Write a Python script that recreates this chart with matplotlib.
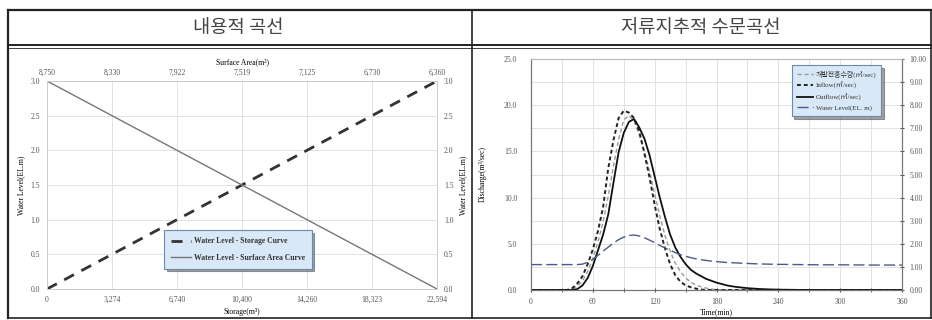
import numpy as np
import matplotlib
matplotlib.use("Agg")
import matplotlib.pyplot as plt
from matplotlib.lines import Line2D

plt.rcParams['font.family'] = ['Liberation Serif', 'Noto Sans CJK KR', 'DejaVu Sans']

# --- stage-storage data ---
levels = [0.0, 0.5, 1.0, 1.5, 2.0, 2.5, 3.0]
storage = [0, 3274, 6740, 10400, 14260, 18323, 22594]
surface_area = [6360, 6730, 7125, 7519, 7922, 8330, 8750]

# --- routing hydrograph data ---
time = [0, 10, 20, 30, 35, 40, 45, 50, 55, 60, 65, 70, 75, 80, 85, 90, 95, 100,
        105, 110, 115, 120, 125, 130, 135, 140, 145, 150, 155, 160, 165, 170,
        175, 180, 185, 190, 195, 200, 210, 220, 230, 240, 260, 280, 300, 330, 360]
pre_dev = [0, 0, 0, 0, 0, 0.1, 0.4, 1.0, 2.0, 3.4, 5.2, 7.4, 10.2, 13.4, 16.3, 18.4, 18.9, 18.3,
           16.8, 15.0, 12.8, 10.4, 8.0, 5.9, 4.2, 2.9, 2.0, 1.3, 0.85, 0.55, 0.35, 0.2,
           0.1, 0.05, 0, 0, 0, 0, 0, 0, 0, 0, 0, 0, 0, 0, 0]
inflow = [0, 0, 0, 0, 0, 0.2, 0.7, 1.5, 2.8, 4.4, 6.4, 9.0, 13.2, 16.2, 18.6, 19.4, 19.2, 18.6,
          17.2, 14.8, 12.2, 9.2, 6.6, 4.5, 2.8, 1.6, 0.9, 0.5, 0.3, 0.15, 0.05, 0,
          0, 0, 0, 0, 0, 0, 0, 0, 0, 0, 0, 0, 0, 0, 0]
outflow = [0, 0, 0, 0, 0, 0, 0.1, 0.5, 1.3, 2.6, 4.3, 6.0, 8.2, 11.6, 14.9, 17.0, 18.2, 18.5,
           17.6, 16.4, 14.6, 12.3, 10.0, 7.9, 6.0, 4.6, 3.6, 2.8, 2.2, 1.8, 1.5, 1.2,
           1.0, 0.8, 0.65, 0.5, 0.4, 0.32, 0.2, 0.12, 0.07, 0.04, 0.01, 0, 0, 0, 0]
water_level = [1.1, 1.1, 1.1, 1.1, 1.1, 1.1, 1.1, 1.12, 1.2, 1.33, 1.5, 1.68, 1.86, 2.03, 2.18, 2.29, 2.36, 2.38,
               2.34, 2.26, 2.16, 2.05, 1.93, 1.82, 1.72, 1.62, 1.53, 1.46, 1.40, 1.35, 1.31, 1.28,
               1.25, 1.23, 1.21, 1.19, 1.18, 1.17, 1.15, 1.13, 1.12, 1.11, 1.10, 1.09, 1.09, 1.08, 1.08]

fig = plt.figure(figsize=(9.32, 3.2), dpi=100)
W, H = 932.0, 320.0


def fx(px):
    return px / W


def fy(py):
    return 1 - py / H


# frame / table lines
for (x0, y0, x1, y1, lw) in [(8, 10, 931, 10, 1.6), (8, 318, 931, 318, 1.2),
                             (8, 10, 8, 318, 1.6), (931, 10, 931, 318, 1.2),
                             (8, 45, 931, 45, 1.4), (8, 48, 931, 48, 0.6),
                             (472, 10, 472, 318, 1.2)]:
    fig.add_artist(Line2D([fx(x0), fx(x1)], [fy(y0), fy(y1)], color='#222', lw=lw))

tfont = dict(family=['Noto Sans CJK KR'], fontsize=13.5, color='#444', weight='light',
             ha='center', va='center')
fig.text(fx(238), fy(28), "내용적 곡선", **tfont)
fig.text(fx(701), fy(28), "저류지추적 수문곡선", **tfont)

tick_fs = 5.5
grid_c = '#e2e2e2'

# ---------------- left: stage-storage ----------------
ax = fig.add_axes([fx(47), fy(289), fx(437 - 47), (289 - 81) / H])
idx = np.arange(len(levels))
ax.plot(idx, levels, color='#333', lw=2.0, dashes=(4, 3),
        label='Water Level - Storage Curve')
ax.set_xlim(0, len(levels) - 1)
ax.set_ylim(0, 3)
ax.set_xticks(idx)
ax.set_xticklabels(["{:,}".format(v) for v in storage])
ax.set_yticks(levels)
ax.set_yticklabels(["%.1f" % v for v in levels])
ax.set_xlabel("Storage(m³)", fontsize=tick_fs, labelpad=3)
ax.set_ylabel("Water Level(EL.m)", fontsize=tick_fs, labelpad=4)
ax.grid(True, color=grid_c, lw=0.7)
ax.tick_params(labelsize=tick_fs, length=0, colors='#555', pad=5)

axr = ax.twinx()
axr.set_ylim(0, 3)
axr.set_yticks(levels)
axr.set_yticklabels(["%.1f" % v for v in levels])
axr.set_ylabel("Water Level(EL.m)", fontsize=tick_fs, labelpad=4)
axr.tick_params(labelsize=tick_fs, length=0, colors='#555', pad=5)

axt = ax.twiny()
axt.plot(idx, levels, color='#777', lw=1.0, label='Water Level - Surface Area Curve')
axt.set_xlim(len(levels) - 1, 0)
axt.set_xticks(idx)
axt.set_xticklabels(["{:,}".format(v) for v in surface_area])
axt.set_xlabel("Surface Area(m²)", fontsize=tick_fs, labelpad=3)
axt.tick_params(labelsize=tick_fs, length=0, colors='#555', pad=3)

for a in (ax, axr, axt):
    for s in a.spines.values():
        s.set_color('#cccccc')
        s.set_linewidth(0.7)

h1, l1 = ax.get_legend_handles_labels()
h2, l2 = axt.get_legend_handles_labels()
leg = axt.legend(h1 + h2, l1 + l2, loc='lower left', bbox_to_anchor=(0.29, 0.08),
                 prop=dict(family=['Liberation Serif'], size=5.5, weight='bold'),
                 facecolor='#d9e8f7', edgecolor='#7088a8', framealpha=1,
                 fancybox=False, shadow=True, borderpad=0.9, labelspacing=1.1,
                 handlelength=2.6, handletextpad=0.4)
leg.get_frame().set_linewidth(0.8)
for t in leg.get_texts():
    t.set_color('#333')

# ---------------- right: routing hydrograph ----------------
bx = fig.add_axes([fx(531), fy(290), fx(902 - 531), (290 - 59) / H])
bx.plot(time, pre_dev, color='#9a9a9a', lw=1.0, dashes=(3, 2), label='개발전홍수량(㎥/sec)')
bx.plot(time, inflow, color='#222', lw=1.4, dashes=(2, 1.5), label='Inflow(㎥/sec)')
bx.plot(time, outflow, color='#111', lw=1.3, label='Outflow(㎥/sec)')
bx.set_xlim(0, 360)
bx.set_ylim(0, 25)
bx.set_xticks(range(0, 361, 60))
bx.set_xticklabels(['0', '60', '120', '180', '240', '300', '360'])
bx.set_xticks(range(30, 361, 60), minor=True)
bx.set_yticks(np.arange(0, 25.1, 5))
bx.set_yticklabels(["%.1f" % v for v in np.arange(0, 25.1, 5)])
bx.set_yticks(np.arange(2.5, 25, 5), minor=True)
bx.grid(True, which='both', color=grid_c, lw=0.7)
bx.set_xlabel("Time(min)", fontsize=tick_fs, labelpad=2)
bx.set_ylabel("Discharge(m³/sec)", fontsize=tick_fs, labelpad=12)
bx.tick_params(which='both', labelsize=tick_fs, colors='#555', length=3, direction='inout', pad=4)
bx.tick_params(axis='y', which='both', length=0, pad=10)

bxr = bx.twinx()
bxr.plot(time, water_level, color='#4a5a8c', lw=1.0, dashes=(8, 3), label='Water Level(EL. m)')
bxr.set_ylim(0, 10)
bxr.set_yticks(range(0, 11))
bxr.set_yticklabels(["%.2f" % v for v in range(0, 11)])
bxr.tick_params(labelsize=tick_fs, colors='#555', length=3, direction='inout', pad=4)

for a in (bx, bxr):
    for s in a.spines.values():
        s.set_color('#777')
        s.set_linewidth(0.8)
    a.spines['top'].set_color('#bbbbbb')

h1, l1 = bx.get_legend_handles_labels()
h2, l2 = bxr.get_legend_handles_labels()
leg2 = bxr.legend(h1 + h2, l1 + l2, loc='upper right', bbox_to_anchor=(0.954, 0.987),
                  prop=dict(family=['Liberation Serif', 'Noto Sans CJK KR'], size=5),
                  facecolor='#d9e8f7', edgecolor='#7088a8', framealpha=1,
                  fancybox=False, shadow=True, borderpad=0.7, labelspacing=0.6,
                  handlelength=2.4, handletextpad=0.4)
leg2.get_frame().set_linewidth(0.8)
for t in leg2.get_texts():
    t.set_color('#333')

fig.savefig("out.png", dpi=100)
